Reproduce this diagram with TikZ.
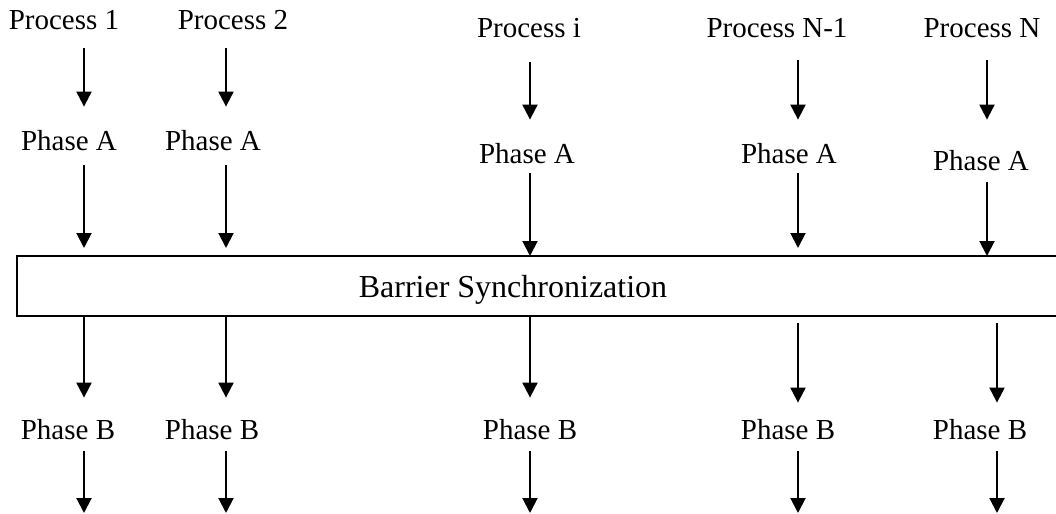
\documentclass[tikz,border=0pt]{standalone}
\usepackage{fontspec}
\setmainfont{Liberation Serif}
\usetikzlibrary{arrows.meta}

\tikzset{
  lbl/.style={inner sep=0pt, anchor=base, text height=10pt, text depth=3pt, font=\fontsize{14.5}{17}\selectfont},
  flow/.style={line width=1pt, -{Triangle[width=7.5pt,length=7.5pt]}},
  barbox/.style={draw, line width=1pt, inner sep=0pt, outer sep=0pt, minimum width=521.5pt, minimum height=30pt},
}

\begin{document}
\begin{tikzpicture}[x=0.5pt, y=-0.5pt]
\clip (0,0) rectangle (1056,514);
% columns of arrows
\coordinate (c1) at (84,0);
\coordinate (c2) at (226,0);
\coordinate (c3) at (530,0);
\coordinate (c4) at (798,0);
\coordinate (c5) at (987,0);
\coordinate (c6) at (997,0);
% processes
\node[lbl] (p1) at (64,30) {Process 1};
\node[lbl] (p2) at (233,30) {Process 2};
\node[lbl] (p3) at (529,38) {Process i};
\node[lbl] (p4) at (777,37) {Process N-1};
\node[lbl] (p5) at (982,37) {Process N};
% phase A
\node[lbl] (a1) at (69,150) {Phase A};
\node[lbl] (a2) at (213,150) {Phase A};
\node[lbl] (a3) at (527,163) {Phase A};
\node[lbl] (a4) at (789,163) {Phase A};
\node[lbl] (a5) at (981,170) {Phase A};
% barrier
\node[barbox] (bar) at (538.5,286) {};
\node[lbl, font=\fontsize{16}{19}\selectfont] (sync) at (513,297) {Barrier Synchronization};
% phase B
\node[lbl] (b1) at (68,439) {Phase B};
\node[lbl] (b2) at (212,439) {Phase B};
\node[lbl] (b3) at (530,439) {Phase B};
\node[lbl] (b4) at (788,439) {Phase B};
\node[lbl] (b5) at (980,439) {Phase B};
% free ends
\coordinate (e1) at (84,513);
\coordinate (e2) at (226,513);
\coordinate (e3) at (530,513);
\coordinate (e4) at (798,513);
\coordinate (e5) at (997,513);

% process -> phase A
\draw[flow, shorten <=6pt, shorten >=11.5pt] (p1.south -| c1) -- (a1.north -| c1);
\draw[flow, shorten <=6pt, shorten >=11.5pt] (p2.south -| c2) -- (a2.north -| c2);
\draw[flow, shorten <=9pt, shorten >=11.5pt] (p3.south -| c3) -- (a3.north -| c3);
\draw[flow, shorten <=8.5pt, shorten >=11.5pt] (p4.south -| c4) -- (a4.north -| c4);
\draw[flow, shorten <=8.5pt, shorten >=15pt] (p5.south -| c5) -- (a5.north -| c5);
% phase A -> barrier
\draw[flow, shorten <=4.5pt, shorten >=4pt] (a1.south -| c1) -- (bar.north -| c1);
\draw[flow, shorten <=4.5pt, shorten >=4pt] (a2.south -| c2) -- (bar.north -| c2);
\draw[flow, shorten <=2pt] (a3.south -| c3) -- (bar.north -| c3);
\draw[flow, shorten <=2pt, shorten >=4pt] (a4.south -| c4) -- (bar.north -| c4);
\draw[flow, shorten <=3pt] (a5.south -| c5) -- (bar.north -| c5);
% barrier -> phase B
\draw[flow, shorten >=10.5pt] (bar.south -| c1) -- (b1.north -| c1);
\draw[flow, shorten >=10.5pt] (bar.south -| c2) -- (b2.north -| c2);
\draw[flow, shorten >=10.5pt] (bar.south -| c3) -- (b3.north -| c3);
\draw[flow, shorten <=3.5pt, shorten >=8pt] (bar.south -| c4) -- (b4.north -| c4);
\draw[flow, shorten <=3.5pt, shorten >=8pt] (bar.south -| c6) -- (b5.north -| c6);
% phase B -> onwards
\draw[flow, shorten <=3pt] (b1.south -| c1) -- (e1);
\draw[flow, shorten <=3pt] (b2.south -| c2) -- (e2);
\draw[flow, shorten <=3pt] (b3.south -| c3) -- (e3);
\draw[flow, shorten <=3pt] (b4.south -| c4) -- (e4);
\draw[flow, shorten <=3pt] (b5.south -| c6) -- (e5);
\end{tikzpicture}
\end{document}
